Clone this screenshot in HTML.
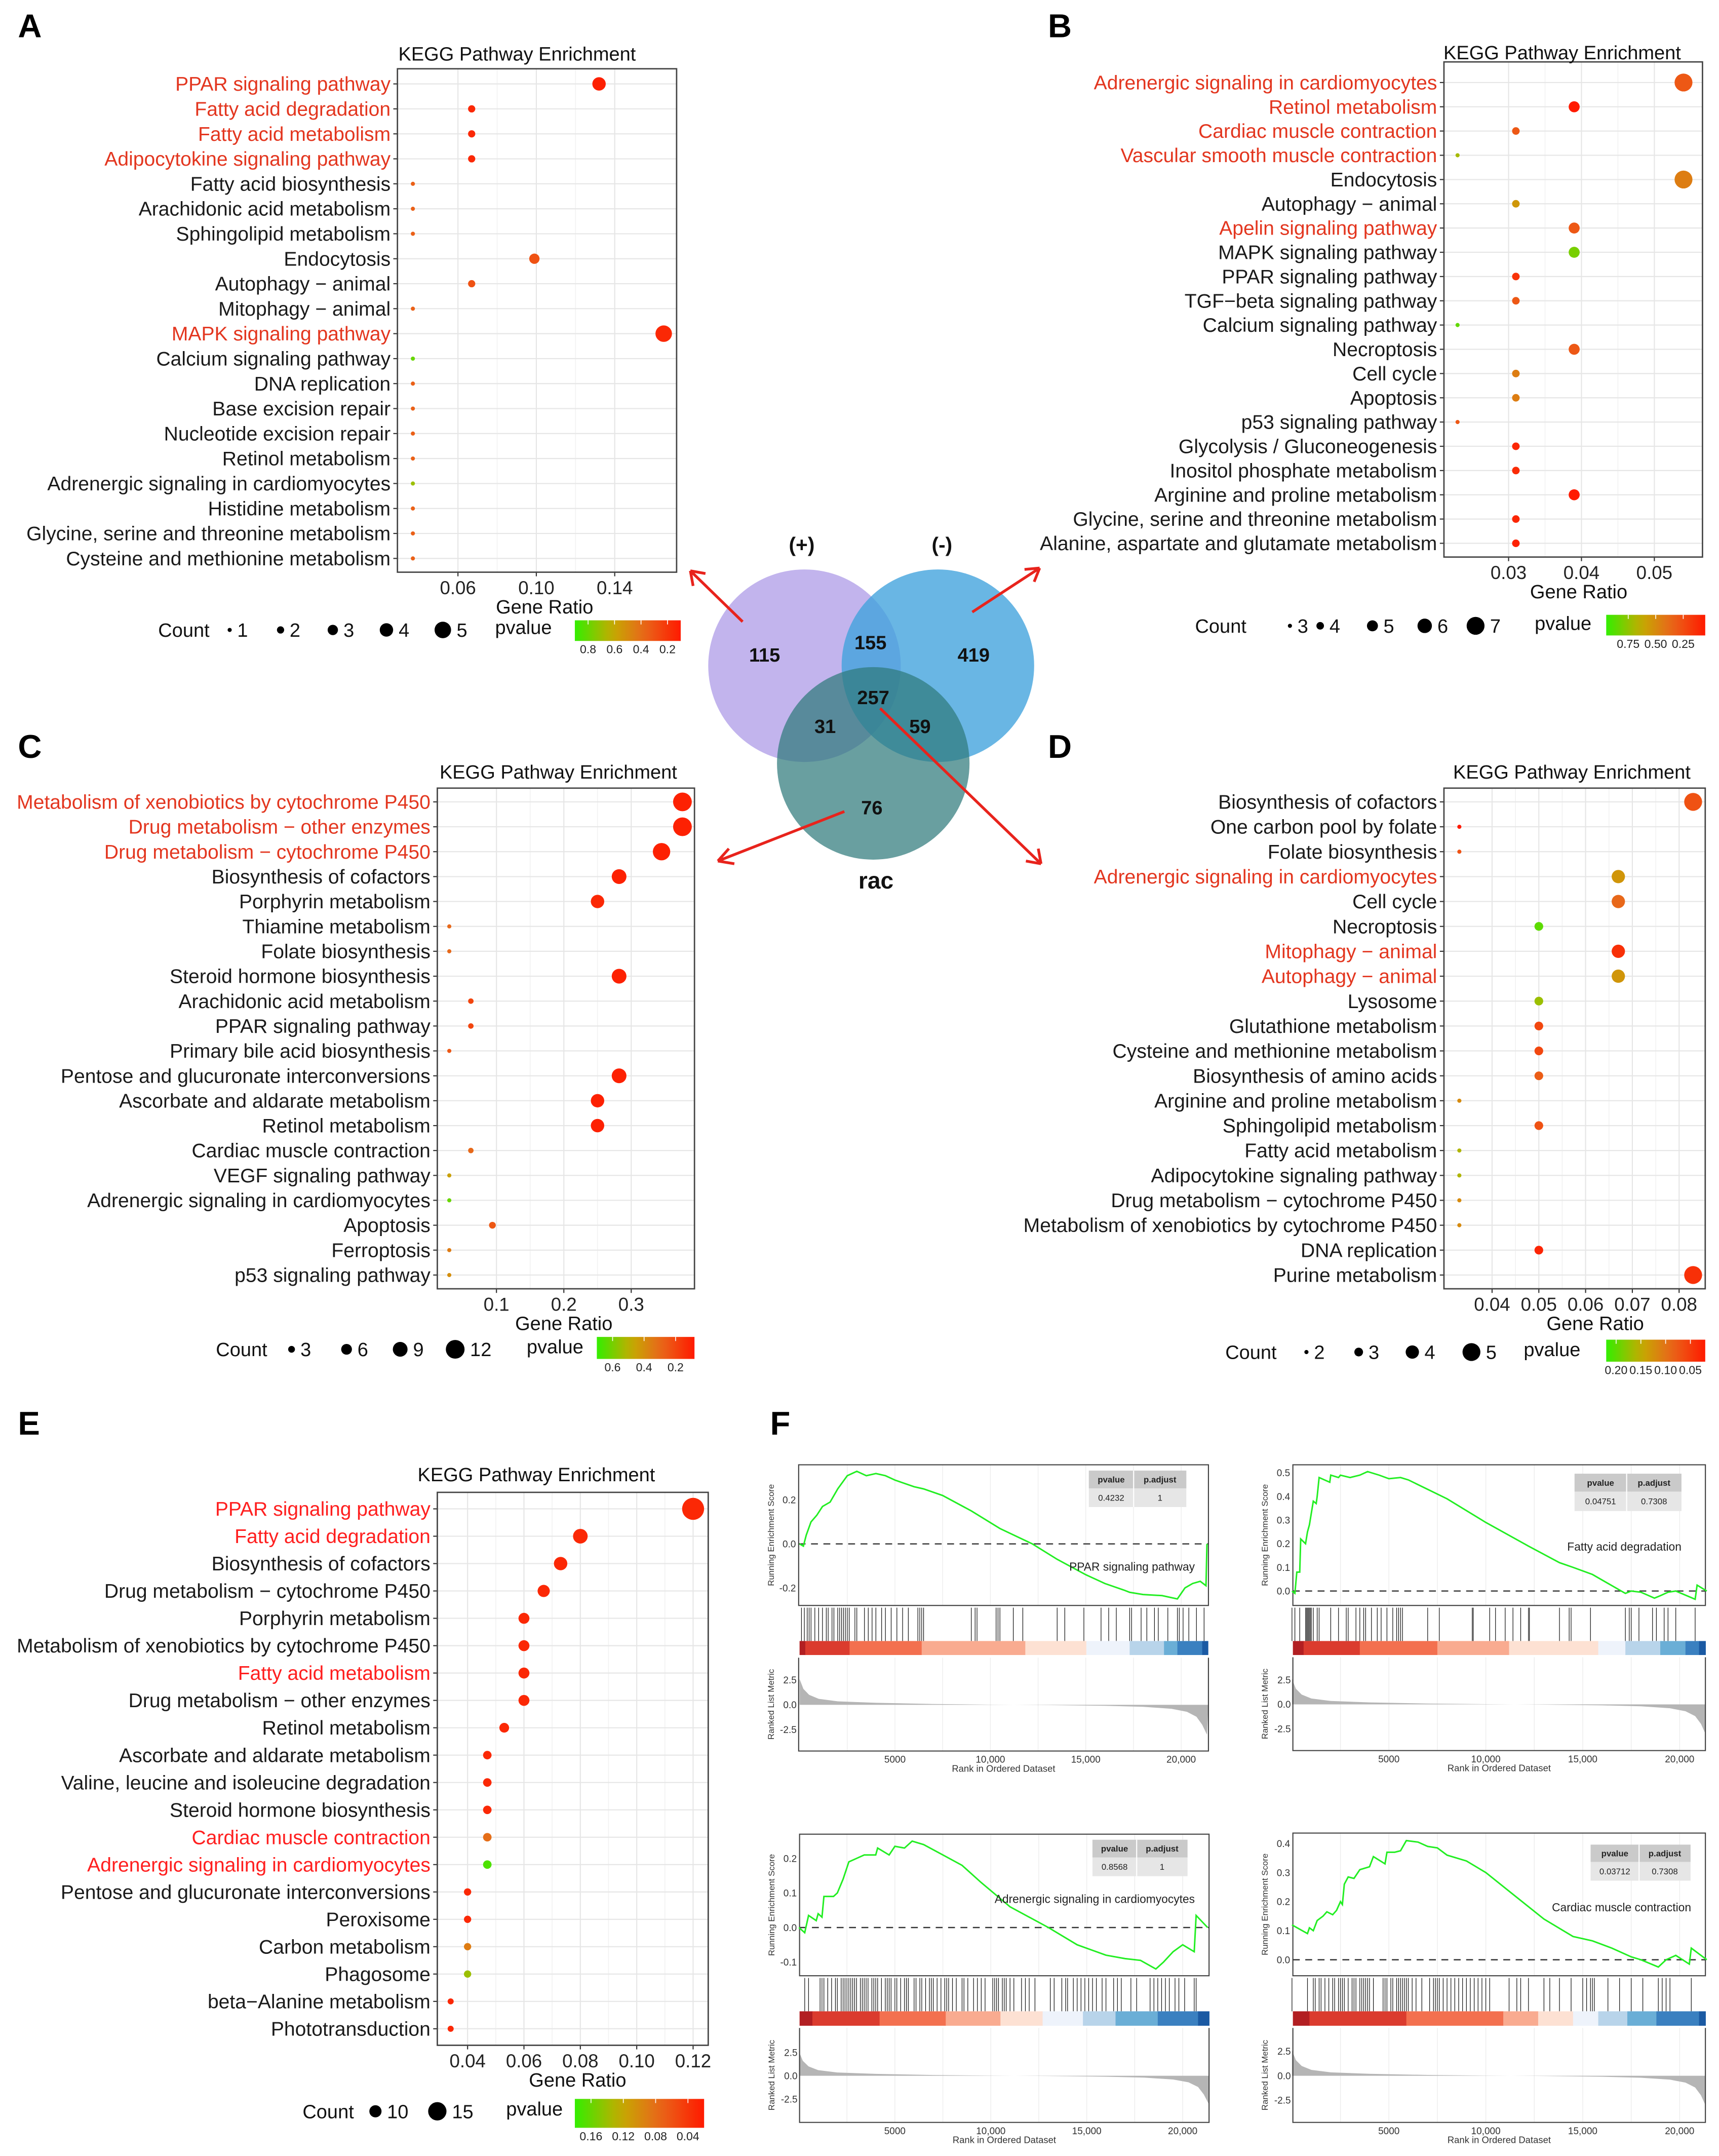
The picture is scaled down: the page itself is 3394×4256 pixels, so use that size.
<!DOCTYPE html>
<html><head><meta charset="utf-8">
<style>
html,body{margin:0;padding:0;background:#fff;}
svg{display:block;font-family:"Liberation Sans",Arial,sans-serif;}
</style></head>
<body>
<svg id="fig" xmlns="http://www.w3.org/2000/svg" width="3394" height="4256" viewBox="0 0 1250 1567.5">
<rect x="0" y="0" width="1250" height="1567.5" fill="#fff"/>
<g font-weight="bold" font-size="24" fill="#000">
<text x="13" y="27">A</text>
<text x="762" y="27">B</text>
<text x="13" y="551">C</text>
<text x="762" y="551">D</text>
<text x="13" y="1043">E</text>
<text x="560" y="1043">F</text>
</g>
<g>
<circle cx="585" cy="484" r="70" fill="#b7a7ea" opacity="0.85"/>
<circle cx="682" cy="484" r="70" fill="#3fa2dc" opacity="0.78"/>
<circle cx="635" cy="555" r="70" fill="#2f7a7c" opacity="0.72"/>
<g font-weight="bold" font-size="14" text-anchor="middle" fill="#111">
<text x="556" y="481">115</text>
<text x="633" y="472">155</text>
<text x="708" y="481">419</text>
<text x="635" y="512">257</text>
<text x="600" y="533">31</text>
<text x="669" y="533">59</text>
<text x="634" y="592">76</text>
<text x="583" y="401" font-size="15">(+)</text>
<text x="685" y="401" font-size="15">(-)</text>
<text x="637" y="646" font-size="17">rac</text>
</g>
<g stroke="#e8231c" stroke-width="2" fill="none">
<path d="M540 452 L502 415 M502 415 l11 2 M502 415 l2 11"/>
<path d="M707 445 L756 413 M756 413 l-11 1 M756 413 l-4 10"/>
<path d="M614 590 L522 626 M522 626 l8 -9 M522 626 l12 2"/>
<path d="M640 515 L757 628 M757 628 l-11 -2 M757 628 l-2 -11"/>
</g>
</g>
</svg>
<script>
// ===== Panel A data =====
const labelsA=["PPAR signaling pathway","Fatty acid degradation","Fatty acid metabolism","Adipocytokine signaling pathway","Fatty acid biosynthesis","Arachidonic acid metabolism","Sphingolipid metabolism","Endocytosis","Autophagy \u2212 animal","Mitophagy \u2212 animal","MAPK signaling pathway","Calcium signaling pathway","DNA replication","Base excision repair","Nucleotide excision repair","Retinol metabolism","Adrenergic signaling in cardiomyocytes","Histidine metabolism","Glycine, serine and threonine metabolism","Cysteine and methionine metabolism"];
const highlightA=[0,1,2,3,10];
const ratioA=[0.132,0.067,0.067,0.067,0.037,0.037,0.037,0.099,0.067,0.037,0.165,0.037,0.037,0.037,0.037,0.037,0.037,0.037,0.037,0.037];
const countA=[4,2,2,2,1,1,1,3,2,1,5,1,1,1,1,1,1,1,1,1];
const pvalA=[0.12,0.15,0.15,0.15,0.35,0.35,0.35,0.3,0.3,0.35,0.15,0.8,0.35,0.35,0.35,0.35,0.7,0.35,0.35,0.35];
const ticksA=[0.06,0.10,0.14];
const tickLabelsA=["0.06","0.10","0.14"];
const countLegendA=[1,2,3,4,5];
const pLegendA=[0.8,0.6,0.4,0.2];
// ===== Panel B data =====
const labelsB=["Adrenergic signaling in cardiomyocytes","Retinol metabolism","Cardiac muscle contraction","Vascular smooth muscle contraction","Endocytosis","Autophagy \u2212 animal","Apelin signaling pathway","MAPK signaling pathway","PPAR signaling pathway","TGF\u2212beta signaling pathway","Calcium signaling pathway","Necroptosis","Cell cycle","Apoptosis","p53 signaling pathway","Glycolysis / Gluconeogenesis","Inositol phosphate metabolism","Arginine and proline metabolism","Glycine, serine and threonine metabolism","Alanine, aspartate and glutamate metabolism"];
const highlightB=[0,1,2,3,6];
const ratioB=[0.054,0.039,0.031,0.023,0.054,0.031,0.039,0.039,0.031,0.031,0.023,0.039,0.031,0.031,0.023,0.031,0.031,0.039,0.031,0.031];
const countB=[7,5,4,3,7,4,5,5,4,4,3,5,4,4,3,4,4,5,4,4];
const pvalB=[0.3,0.05,0.3,0.7,0.45,0.55,0.3,0.8,0.15,0.3,0.85,0.3,0.45,0.45,0.3,0.1,0.12,0.05,0.1,0.08];
const ticksB=[0.03,0.04,0.05];
const tickLabelsB=["0.03","0.04","0.05"];
const countLegendB=[3,4,5,6,7];
const pLegendB=[0.75,0.50,0.25];
// ===== Panel C data =====
const labelsC=["Metabolism of xenobiotics by cytochrome P450","Drug metabolism \u2212 other enzymes","Drug metabolism \u2212 cytochrome P450","Biosynthesis of cofactors","Porphyrin metabolism","Thiamine metabolism","Folate biosynthesis","Steroid hormone biosynthesis","Arachidonic acid metabolism","PPAR signaling pathway","Primary bile acid biosynthesis","Pentose and glucuronate interconversions","Ascorbate and aldarate metabolism","Retinol metabolism","Cardiac muscle contraction","VEGF signaling pathway","Adrenergic signaling in cardiomyocytes","Apoptosis","Ferroptosis","p53 signaling pathway"];
const highlightC=[0,1,2];
const ratioC=[0.376,0.376,0.345,0.282,0.25,0.03,0.03,0.282,0.062,0.062,0.03,0.282,0.25,0.25,0.062,0.03,0.03,0.094,0.03,0.03];
const countC=[12,12,11,9,8,1,1,9,2,2,1,9,8,8,2,1,1,3,1,1];
const pvalC=[0.1,0.1,0.1,0.1,0.12,0.3,0.3,0.1,0.2,0.2,0.25,0.1,0.1,0.1,0.3,0.45,0.62,0.25,0.35,0.4];
const ticksC=[0.1,0.2,0.3];
const tickLabelsC=["0.1","0.2","0.3"];
const countLegendC=[3,6,9,12];
const pLegendC=[0.6,0.4,0.2];
// ===== Panel D data =====
const labelsD=["Biosynthesis of cofactors","One carbon pool by folate","Folate biosynthesis","Adrenergic signaling in cardiomyocytes","Cell cycle","Necroptosis","Mitophagy \u2212 animal","Autophagy \u2212 animal","Lysosome","Glutathione metabolism","Cysteine and methionine metabolism","Biosynthesis of amino acids","Arginine and proline metabolism","Sphingolipid metabolism","Fatty acid metabolism","Adipocytokine signaling pathway","Drug metabolism \u2212 cytochrome P450","Metabolism of xenobiotics by cytochrome P450","DNA replication","Purine metabolism"];
const highlightD=[3,6,7];
const ratioD=[0.083,0.033,0.033,0.067,0.067,0.05,0.067,0.067,0.05,0.05,0.05,0.05,0.033,0.05,0.033,0.033,0.033,0.033,0.05,0.083];
const countD=[5,2,2,4,4,3,4,4,3,3,3,3,2,3,2,2,2,2,3,5];
const pvalD=[0.07,0.02,0.07,0.13,0.09,0.2,0.04,0.13,0.17,0.06,0.06,0.08,0.12,0.07,0.16,0.16,0.12,0.12,0.03,0.04];
const ticksD=[0.04,0.05,0.06,0.07,0.08];
const tickLabelsD=["0.04","0.05","0.06","0.07","0.08"];
const countLegendD=[2,3,4,5];
const pLegendD=[0.20,0.15,0.10,0.05];
// ===== Panel E data =====
const labelsE=["PPAR signaling pathway","Fatty acid degradation","Biosynthesis of cofactors","Drug metabolism \u2212 cytochrome P450","Porphyrin metabolism","Metabolism of xenobiotics by cytochrome P450","Fatty acid metabolism","Drug metabolism \u2212 other enzymes","Retinol metabolism","Ascorbate and aldarate metabolism","Valine, leucine and isoleucine degradation","Steroid hormone biosynthesis","Cardiac muscle contraction","Adrenergic signaling in cardiomyocytes","Pentose and glucuronate interconversions","Peroxisome","Carbon metabolism","Phagosome","beta\u2212Alanine metabolism","Phototransduction"];
const highlightE=[0,1,6,12,13];
const ratioE=[0.12,0.08,0.073,0.067,0.06,0.06,0.06,0.06,0.053,0.047,0.047,0.047,0.047,0.047,0.04,0.04,0.04,0.04,0.034,0.034];
const countE=[18,12,11,10,9,9,9,9,8,7,7,7,7,7,6,6,6,6,5,5];
const pvalE=[0.03,0.03,0.03,0.03,0.03,0.03,0.03,0.03,0.03,0.03,0.03,0.03,0.08,0.17,0.03,0.03,0.09,0.14,0.03,0.03];
const ticksE=[0.04,0.06,0.08,0.10,0.12];
const tickLabelsE=["0.04","0.06","0.08","0.10","0.12"];
const countLegendE=[10,15];
const pLegendE=[0.16,0.12,0.08,0.04];
// ===== GSEA data (rank, running ES) =====
const esRank1=[0,200,350,600,900,1200,1600,2000,2500,3000,3500,4000,4500,5000,6000,6500,7500,9000,10500,12200,13500,15000,16000,17000,17300,18000,19000,19800,20200,20600,21000,21300,21350];
const esVal1=[0,-0.01,0.04,0.1,0.13,0.17,0.19,0.25,0.31,0.33,0.31,0.32,0.31,0.29,0.26,0.25,0.22,0.15,0.07,0.0,-0.07,-0.14,-0.18,-0.21,-0.22,-0.23,-0.235,-0.25,-0.2,-0.18,-0.17,-0.19,0];
const hits1=[100,250,400,500,600,800,1000,1200,1400,1500,1700,1800,2000,2100,2200,2300,2400,2500,2600,2900,3000,3400,3600,3800,4000,4300,4500,4800,5100,5400,5700,6200,6300,6400,6500,9000,9200,9300,10300,10400,10500,11200,11700,13500,13900,14900,15800,16200,16600,17300,17400,17900,18200,18600,18800,19300,19800,19900,20100,20400,20800,21200];
const esRank2=[0,150,250,400,450,700,800,900,1000,1100,1250,1300,1400,1950,2000,2400,2500,3000,3500,3900,4500,5000,5600,6000,7000,8000,10000,12200,13800,14500,15500,17200,17500,18000,18700,19000,19400,19800,20800,20900,21400];
const esVal2=[0,-0.01,0.08,0.08,0.22,0.2,0.25,0.28,0.33,0.38,0.37,0.4,0.48,0.46,0.49,0.48,0.49,0.48,0.49,0.505,0.49,0.475,0.48,0.47,0.43,0.39,0.29,0.19,0.12,0.1,0.07,-0.01,0.0,-0.005,-0.03,-0.02,-0.005,0.0,-0.035,0.025,0.0];
const hits2=[0,150,400,700,750,800,850,900,950,1000,1100,1300,1400,2000,2400,2800,2900,3300,3500,3700,3800,4100,4400,4600,4900,5200,5400,5500,5600,5700,7000,7600,9300,9350,10200,10500,11000,11400,11800,12200,12250,13800,14300,14400,15400,17200,17400,17500,17900,18600,18800,19200,19400,19800,20800];
const esRank3=[0,300,400,500,900,1000,1200,1300,1800,2000,2300,2600,3000,3400,4000,4100,4700,5000,5500,5900,6500,7500,8500,9500,11000,13000,14500,16000,17000,17800,18600,19000,19500,20000,20600,20700,21300];
const esVal3=[0,-0.015,0.01,0.035,0.02,0.04,0.03,0.09,0.09,0.1,0.14,0.19,0.2,0.21,0.21,0.23,0.21,0.235,0.23,0.25,0.24,0.21,0.18,0.13,0.06,0.0,-0.05,-0.08,-0.09,-0.095,-0.12,-0.1,-0.07,-0.05,-0.07,0.035,0.0];
const hits3=[300,500,1100,1200,1300,1500,1700,1900,2000,2200,2300,2400,2500,2600,2700,2800,2900,3000,3200,3300,3400,3500,3600,3800,3900,4000,4100,4300,4500,4600,4700,4800,5000,5100,5300,5500,5600,5700,6000,6100,6300,6400,6600,6800,6900,7000,7200,7400,7600,7700,7800,8000,8200,8500,8600,8800,9100,9300,9500,9700,10100,10200,10300,10400,10600,10700,10800,11000,11200,11600,11800,12000,12300,13100,13300,13700,13900,14000,14300,14500,14700,14900,15100,15300,15500,15800,16000,16400,16600,16800,17300,17600,18300,18500,18700,18900,19100,19300,19600,19800,20100,20600,20700];
const esRank4=[0,800,900,1100,1300,1600,1800,2100,2300,2500,2600,2700,2900,3200,3500,4000,4200,4800,4900,5300,5600,5900,6500,7000,7500,8000,9000,10000,11500,13000,14500,15500,16500,17500,18000,18900,19300,19800,20500,20600,21400];
const esVal4=[0.12,0.09,0.11,0.1,0.135,0.15,0.165,0.155,0.17,0.2,0.19,0.26,0.285,0.28,0.31,0.32,0.355,0.33,0.37,0.37,0.375,0.41,0.405,0.39,0.385,0.36,0.34,0.3,0.22,0.14,0.08,0.065,0.04,0.01,0.0,-0.025,0.0,0.015,-0.015,0.04,0.0];
const hits4=[0,800,1100,1200,1400,1500,1700,1900,2100,2200,2400,2500,2600,2700,2900,3100,3200,3300,3500,3600,3700,3800,3900,4000,4200,4700,4800,4900,5100,5200,5400,5500,5600,5700,5800,5900,6000,6200,6400,6700,7100,7300,7400,7500,7600,7800,8000,8200,8400,8600,8800,9000,9200,9400,9600,9800,10000,10200,11200,11600,11800,12200,13000,13300,13800,14400,15000,15200,15400,15500,15600,16300,16900,17500,18100,18900,19100,19300,19500,20600];
const metricRank=[0,200,500,1000,2000,4000,7000,10000,13000,16000,18000,19500,20300,20800,21100,21350];
const metricVal=[2.6,1.6,1.0,0.6,0.35,0.2,0.08,0.02,-0.03,-0.1,-0.2,-0.4,-0.7,-1.2,-2.0,-3.0];
const stripColors=["#b21f22","#db3b2e","#f3704f","#f9ab90","#fde1d3","#eef3fb","#b8d4ea","#6aaed6","#3a80c0","#1b5aa3"];
const stripBounds1=[300,2620,6400,11830,15030,17300,19100,19800,21100];
const stripBounds2=[600,3500,7500,11200,15800,17200,19000,20300,21000];
const stripBounds3=[700,4200,7650,10500,12700,14800,16500,18700,20800];
const stripBounds4=[900,5900,10900,12700,14500,15800,17300,18800,21000];
const pvalue1="0.4232", padj1="1", path1="PPAR signaling pathway";
const pvalue2="0.04751", padj2="0.7308", path2="Fatty acid degradation";
const pvalue3="0.8568", padj3="1", path3="Adrenergic signaling in cardiomyocytes";
const pvalue4="0.03712", padj4="0.7308", path4="Cardiac muscle contraction";
const esTicks1=[-0.2,0.0,0.2];
const esTicks2=[0.0,0.1,0.2,0.3,0.4,0.5];
const esTicks3=[-0.1,0.0,0.1,0.2];
const esTicks4=[0.0,0.1,0.2,0.3,0.4];
const rankTicks=[5000,10000,15000,20000];
const rankTickLabels=["5000","10,000","15,000","20,000"];
const metricTicks=[2.5,0.0,-2.5];

const NS="http://www.w3.org/2000/svg";
const svg=document.getElementById('fig');
function mk(tag,attrs,parent){const e=document.createElementNS(NS,tag);for(const k in attrs)e.setAttribute(k,attrs[k]);(parent||svg).appendChild(e);return e;}
function hex(h){return [parseInt(h.slice(1,3),16),parseInt(h.slice(3,5),16),parseInt(h.slice(5,7),16)];}
const cstops=[[0,"#ff1a00"],[0.35,"#e8681a"],[0.65,"#c4ac00"],[1,"#33ee00"]];
function pcolor(t){t=Math.max(0,Math.min(1,t));for(let i=1;i<cstops.length;i++){if(t<=cstops[i][0]){const a=cstops[i-1],b=cstops[i];const f=(t-a[0])/(b[0]-a[0]);const A=hex(a[1]),B=hex(b[1]);return "rgb("+A.map((v,j)=>Math.round(v+(B[j]-v)*f)).join(",")+")";}}return cstops[3][1];}
let gid=0;

function dotplot(c){
  const g=mk('g',{});
  
  
  const n=c.labels.length;
  const rowY=i=>c.y0+(c.y1-c.y0)*i/(n-1);
  const xs=v=>c.tx0+(v-c.tv0)*(c.tx1-c.tx0)/(c.tv1-c.tv0);
  const rad=k=>c.rmin+(k-c.cmin)*(c.rmax-c.rmin)/(c.cmax-c.cmin);
  const tcol=p=>pcolor((p-c.pR)/(c.pL-c.pR));
  const fr=mk('rect',{x:c.fx0,y:c.fy0,width:c.fx1-c.fx0,height:c.fy1-c.fy0,fill:'#fff'},g);
  
  
  for(let i=0;i<c.ticks.length;i++){
    const x=xs(c.ticks[i]);
    const gl=mk('line',{x1:x,x2:x,y1:c.fy0,y2:c.fy1,stroke:'#e6e6e6','stroke-width':0.8},g);
    
    
    if(i>0){const xm=(x+xs(c.ticks[i-1]))/2;
      const gm=mk('line',{x1:xm,x2:xm,y1:c.fy0,y2:c.fy1,stroke:'#f2f2f2','stroke-width':0.6},g);
      
      }
    const tk=mk('line',{x1:x,x2:x,y1:c.fy1,y2:c.fy1+3,stroke:'#333','stroke-width':0.8},g);
    
    
    const tl=mk('text',{x:x,y:c.fy1+16,'text-anchor':'middle','font-size':13.5,fill:'#222'},g);
    
    
    tl.textContent=c.tickLabels[i];
  }
  for(let i=0;i<n;i++){
    const y=rowY(i);
    const hl=mk('line',{x1:c.fx0,x2:c.fx1,y1:y,y2:y,stroke:'#e6e6e6','stroke-width':0.8},g);
    
    
    const tk=mk('line',{x1:c.fx0-3,x2:c.fx0,y1:y,y2:y,stroke:'#333','stroke-width':0.8},g);
    
    
    const lb=mk('text',{x:c.fx0-5,y:y+5,'text-anchor':'end','font-size':14.4,fill:c.hl.includes(i)?c.redCol:'#1a1a1a'},g);
    
    
    lb.textContent=c.labels[i];
  }
  const bd=mk('rect',{x:c.fx0,y:c.fy0,width:c.fx1-c.fx0,height:c.fy1-c.fy0,fill:'none',stroke:'#444','stroke-width':1},g);
  
  
  for(let i=0;i<n;i++){
    const d=mk('circle',{cx:xs(c.ratio[i]),cy:rowY(i),r:rad(c.count[i]),fill:tcol(c.pval[i])},g);
    
    
  }
  const tt=mk('text',{x:c.titleX,y:c.titleY,'text-anchor':'middle','font-size':14,fill:'#111'},g);
  
  
  tt.textContent='KEGG Pathway Enrichment';
  const xt=mk('text',{x:c.xtX,y:c.fy1+30,'text-anchor':'middle','font-size':14,fill:'#111'},g);
  
  
  xt.textContent='Gene Ratio';
  const ct=mk('text',{x:c.legCountX,y:c.legY+5,'font-size':14,fill:'#111'},g);
  
  
  ct.textContent='Count';
  for(let i=0;i<c.countLeg.length;i++){
    const x=c.legDotX[i];
    const d=mk('circle',{cx:x,cy:c.legY,r:rad(c.countLeg[i]),fill:'#000'},g);
    
    
    const t=mk('text',{x:x+rad(c.countLeg[i])+4,y:c.legY+5,'font-size':14,fill:'#111'},g);
    
    
    t.textContent=c.countLeg[i];
  }
  const pt=mk('text',{x:c.legPX,y:c.legY+3,'font-size':14,fill:'#111'},g);
  
  
  pt.textContent='pvalue';
  const id='grad'+(gid++);
  const defs=mk('defs',{},g);
  const lg=mk('linearGradient',{id:id,x1:0,x2:1,y1:0,y2:0},defs);
  for(let s=0;s<=10;s++){mk('stop',{offset:s/10,'stop-color':pcolor(1-s/10)},lg);}
  const bar=mk('rect',{x:c.barX,y:c.barY,width:c.barW,height:c.barH,fill:'url(#'+id+')'},g);
  
  
  for(let i=0;i<c.pLeg.length;i++){
    const x=c.barX+(c.pL-c.pLeg[i])/(c.pL-c.pR)*c.barW;
    const tl=mk('line',{x1:x,x2:x,y1:c.barY,y2:c.barY+3,stroke:'#fff','stroke-width':0.6},g);
    
    
    const t=mk('text',{x:x,y:c.barY+c.barH+9,'text-anchor':'middle','font-size':8.5,fill:'#222'},g);
    
    
    t.textContent=c.pLegFmt(c.pLeg[i]);
  }
}
const f1=v=>String(v);
const f2=v=>v.toFixed(2);
dotplot({name:'panel-a-dotplot',labels:labelsA,hl:highlightA,ratio:ratioA,count:countA,pval:pvalA,ticks:ticksA,tickLabels:tickLabelsA,countLeg:countLegendA,pLeg:pLegendA,pLegFmt:f1,redCol:'#e3361f',
 fx0:289,fx1:492,fy0:50,fy1:416,y0:61,y1:406,tv0:0.06,tx0:333,tv1:0.14,tx1:447,rmin:1.5,rmax:6,cmin:1,cmax:5,pL:0.9,pR:0.1,
 titleX:376,titleY:44,xtX:396,legY:458,legCountX:115,legDotX:[167,204,242,281,322],legPX:360,barX:418,barY:451,barW:77,barH:15});
dotplot({name:'panel-b-dotplot',labels:labelsB,hl:highlightB,ratio:ratioB,count:countB,pval:pvalB,ticks:ticksB,tickLabels:tickLabelsB,countLeg:countLegendB,pLeg:pLegendB,pLegFmt:f2,redCol:'#e3361f',
 fx0:1050,fx1:1238,fy0:45,fy1:405,y0:60,y1:395,tv0:0.03,tx0:1097,tv1:0.05,tx1:1203,rmin:1.5,rmax:6.5,cmin:3,cmax:7,pL:0.95,pR:0.05,
 titleX:1136,titleY:43,xtX:1148,legY:455,legCountX:869,legDotX:[938,960,998,1036,1073],legPX:1116,barX:1168,barY:447,barW:72,barH:15});
dotplot({name:'panel-c-dotplot',labels:labelsC,hl:highlightC,ratio:ratioC,count:countC,pval:pvalC,ticks:ticksC,tickLabels:tickLabelsC,countLeg:countLegendC,pLeg:pLegendC,pLegFmt:f1,redCol:'#e3361f',
 fx0:318,fx1:505,fy0:573,fy1:937,y0:583,y1:927,tv0:0.1,tx0:361,tv1:0.3,tx1:459,rmin:1.5,rmax:6.8,cmin:1,cmax:12,pL:0.7,pR:0.08,
 titleX:406,titleY:566,xtX:410,legY:981,legCountX:157,legDotX:[212,252,291,331],legPX:383,barX:434,barY:972,barW:71,barH:16});
dotplot({name:'panel-d-dotplot',labels:labelsD,hl:highlightD,ratio:ratioD,count:countD,pval:pvalD,ticks:ticksD,tickLabels:tickLabelsD,countLeg:countLegendD,pLeg:pLegendD,pLegFmt:f2,redCol:'#e3361f',
 fx0:1050,fx1:1240,fy0:573,fy1:937,y0:583,y1:927,tv0:0.05,tx0:1119,tv1:0.08,tx1:1221,rmin:1.5,rmax:6.5,cmin:2,cmax:5,pL:0.22,pR:0.02,
 titleX:1143,titleY:566,xtX:1160,legY:983,legCountX:891,legDotX:[950,988,1027,1070],legPX:1108,barX:1168,barY:974,barW:72,barH:16});
dotplot({name:'panel-e-dotplot',labels:labelsE,hl:highlightE,ratio:ratioE,count:countE,pval:pvalE,ticks:ticksE,tickLabels:tickLabelsE,countLeg:countLegendE,pLeg:pLegendE,pLegFmt:f2,redCol:'#ff1f1f',
 fx0:318,fx1:515,fy0:1085,fy1:1487,y0:1097,y1:1475,tv0:0.04,tx0:340,tv1:0.12,tx1:504,rmin:2.2,rmax:8,cmin:5,cmax:18,pL:0.18,pR:0.02,
 titleX:390,titleY:1077,xtX:420,legY:1535,legCountX:220,legDotX:[273,318],legPX:368,barX:418,barY:1526,barW:94,barH:21});

// ===== GSEA =====
const K=2.7152;
function gsea(c){
  const g=mk('g',{});
  
  
  const X=u=>(c.zx+u*0.598)/K, Y=u=>(c.zy+u*0.4387)/K;
  const xr=r=>X(c.r0u+r*(c.r20u-c.r0u)/20000);
  const yes=v=>Y(c.es0u+v*(c.esA-c.es0u)/c.esAv);
  const ym=v=>Y(c.m0u-v*(c.m0u-c.m25u)/2.5);
  const L=X(c.L),R=X(c.R);
  for(let r=2500;r<=20000;r+=2500){
    const x=xr(r);
    const gl=mk('line',{x1:x,x2:x,y1:Y(c.top),y2:Y(c.esB),stroke:'#ececec','stroke-width':0.5},g);
    
    
    const gl2=mk('line',{x1:x,x2:x,y1:Y(c.mT),y2:Y(c.mB),stroke:'#ececec','stroke-width':0.5},g);
    
    
  }
  const es=mk('rect',{x:L,y:Y(c.top),width:R-L,height:Y(c.esB)-Y(c.top),fill:'none',stroke:'#444','stroke-width':0.8},g);
  
  
  for(const v of c.esTicks){
    const y=yes(v);
    const t=mk('text',{x:L-2,y:y+2.5,'text-anchor':'end','font-size':7,fill:'#333'},g);
    
    
    t.textContent=v.toFixed(1);
  }
  const zl=mk('line',{x1:L,x2:R,y1:yes(0),y2:yes(0),stroke:'#333','stroke-width':0.9,'stroke-dasharray':'5,4'},g);
  
  
  let d='';
  for(let i=0;i<c.esR.length;i++){d+=(i?'L':'M')+xr(c.esR[i]).toFixed(2)+' '+yes(c.esV[i]).toFixed(2);}
  const line=mk('path',{d:d,fill:'none',stroke:'#22ee22','stroke-width':1.1},g);
  
  
  const yt=mk('text',{transform:'translate('+X(c.ytx)+','+Y((c.top+c.esB)/2)+') rotate(-90)','text-anchor':'middle','font-size':6.2,fill:'#333'},g);
  
  
  yt.textContent='Running Enrichment Score';
  const tx0=X(c.tb[0]),tx1=X(c.tb[1]),tx2=X(c.tb[2]),ty0=Y(c.tb[3]),ty1=Y(c.tb[4]),ty2=Y(c.tb[5]);
  const h1=mk('rect',{x:tx0,y:ty0,width:tx2-tx0,height:ty1-ty0,fill:'#cacaca'},g);
  
  
  const h2=mk('rect',{x:tx0,y:ty1,width:tx2-tx0,height:ty2-ty1,fill:'#e6e6e6'},g);
  
  
  const sep=mk('line',{x1:tx1,x2:tx1,y1:ty0,y2:ty2,stroke:'#fff','stroke-width':0.8},g);
  
  
  const cells=[['pvalue',(tx0+tx1)/2,(ty0+ty1)/2,'bold'],['p.adjust',(tx1+tx2)/2,(ty0+ty1)/2,'bold'],[c.pv,(tx0+tx1)/2,(ty1+ty2)/2,'normal'],[c.pa,(tx1+tx2)/2,(ty1+ty2)/2,'normal']];
  for(const ce of cells){
    const t=mk('text',{x:ce[1],y:ce[2]+2.2,'text-anchor':'middle','font-size':6.2,'font-weight':ce[3],fill:'#222'},g);
    
    
    t.textContent=ce[0];
  }
  const pl=mk('text',{x:X(c.lab[0]),y:Y(c.lab[1]),'text-anchor':'end','font-size':8.4,fill:'#222'},g);
  
  
  pl.textContent=c.path;
  for(const h of c.hits){
    const x=xr(h);
    const b=mk('line',{x1:x,x2:x,y1:Y(c.bcT),y2:Y(c.bcB),stroke:'#111','stroke-width':0.45},g);
    
    
  }
  const bounds=[0].concat(c.strip).concat([21400]);
  for(let i=0;i<stripColors.length;i++){
    const x0=Math.max(L,xr(bounds[i])),x1=Math.min(R,xr(bounds[i+1]));
    const s=mk('rect',{x:x0,y:Y(c.bcB),width:Math.max(0,x1-x0)+0.3,height:Y(c.stB)-Y(c.bcB),fill:stripColors[i]},g);
    
    
  }
  let md='M'+xr(metricRank[0]).toFixed(2)+' '+ym(0).toFixed(2);
  for(let i=0;i<metricRank.length;i++){md+='L'+Math.min(R,xr(metricRank[i])).toFixed(2)+' '+ym(metricVal[i]).toFixed(2);}
  md+='L'+R.toFixed(2)+' '+ym(0).toFixed(2)+'Z';
  const ma=mk('path',{d:md,fill:'#b5b5b5',stroke:'none'},g);
  
  
  const mb=mk('path',{d:'M'+L+' '+Y(c.mT)+'L'+L+' '+Y(c.mB)+'L'+R+' '+Y(c.mB)+'L'+R+' '+Y(c.mT),fill:'none',stroke:'#444','stroke-width':0.8},g);
  
  
  for(const v of metricTicks){
    const t=mk('text',{x:L-1.5,y:ym(v)+2.5,'text-anchor':'end','font-size':7,fill:'#333'},g);
    
    
    t.textContent=v.toFixed(1);
  }
  const mt=mk('text',{transform:'translate('+X(c.ytx)+','+Y((c.mT+c.mB)/2)+') rotate(-90)','text-anchor':'middle','font-size':6.2,fill:'#333'},g);
  
  
  mt.textContent='Ranked List Metric';
  for(let i=0;i<rankTicks.length;i++){
    const x=xr(rankTicks[i]);
    const t=mk('text',{x:x,y:Y(c.mB)+8.5,'text-anchor':'middle','font-size':7,fill:'#333'},g);
    
    
    t.textContent=rankTickLabels[i];
  }
  const rt=mk('text',{x:(L+R)/2,y:Y(c.mB)+15,'text-anchor':'middle','font-size':6.8,fill:'#333'},g);
  
  
  rt.textContent='Rank in Ordered Dataset';
}
gsea({name:'gsea-ppar',zx:1480,zy:2860,L:162,R:1515,top:72,esB:705,bcT:715,bcB:865,stB:928,mT:940,mB:1360,
 r0u:165,r20u:1425,es0u:428,esA:230,esAv:0.2,m0u:1152,m25u:1040,ytx:80,esR:esRank1,esV:esVal1,hits:hits1,strip:stripBounds1,
 esTicks:esTicks1,tb:[1120,1268,1442,98,178,262],lab:[1470,548],path:path1,pv:pvalue1,pa:padj1});
gsea({name:'gsea-fatty-acid-degradation',zx:2460,zy:2860,L:155,R:1517,top:72,esB:705,bcT:715,bcB:865,stB:928,mT:938,mB:1358,
 r0u:152,r20u:1432,es0u:640,esA:108,esAv:0.5,m0u:1150,m25u:1040,ytx:72,esR:esRank2,esV:esVal2,hits:hits2,strip:stripBounds2,
 esTicks:esTicks2,tb:[1085,1257,1438,112,193,280],lab:[1438,458],path:path2,pv:pvalue2,pa:padj2});
gsea({name:'gsea-adrenergic',zx:1480,zy:3580,L:165,R:1517,top:93,esB:730,bcT:740,bcB:890,stB:955,mT:965,mB:1390,
 r0u:163,r20u:1430,es0u:513,esA:202,esAv:0.2,m0u:1180,m25u:1075,ytx:82,esR:esRank3,esV:esVal3,hits:hits3,strip:stripBounds3,
 esTicks:esTicks3,tb:[1132,1278,1446,118,198,282],lab:[1470,402],path:path3,pv:pvalue3,pa:padj3});
gsea({name:'gsea-cardiac-muscle',zx:2460,zy:3580,L:155,R:1517,top:88,esB:730,bcT:740,bcB:890,stB:955,mT:965,mB:1390,
 r0u:152,r20u:1432,es0u:658,esA:135,esAv:0.4,m0u:1180,m25u:1070,ytx:72,esR:esRank4,esV:esVal4,hits:hits4,strip:stripBounds4,
 esTicks:esTicks4,tb:[1138,1298,1468,140,218,302],lab:[1470,440],path:path4,pv:pvalue4,pa:padj4});
</script>
</body></html>
